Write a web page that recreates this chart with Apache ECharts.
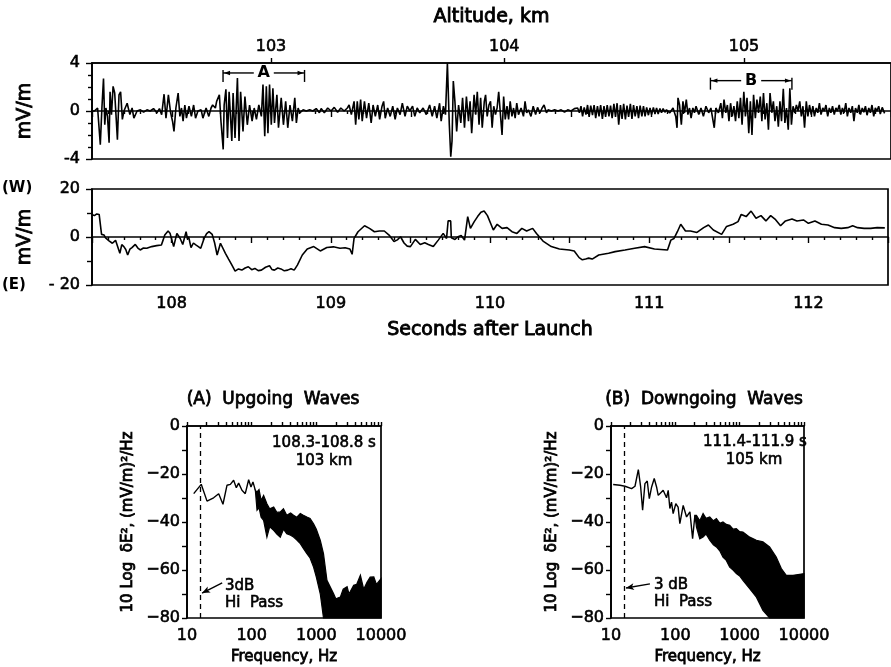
<!DOCTYPE html>
<html>
<head>
<meta charset="utf-8">
<script src="https://cdn.jsdelivr.net/npm/echarts@6/dist/echarts.min.js"></script>
<style>html,body{margin:0;padding:0;background:#fff}#c{width:891px;height:667px}</style>
</head>
<body>
<div id="c"></div>
<script>
// ---------------- DATA ----------------
const timeRange = [107.5, 112.5];
const timeLabels = [108, 109, 110, 111, 112];
const altitudeLabels = ['103', '104', '105'];
const altitudeTimes = [108.62, 110.08, 111.58];

// wave field (mV/m) vs seconds after launch
const waveField = [
[107.500,0.0],[107.515,0.0],[107.535,0.25],[107.552,-2.8],[107.562,0.25],[107.572,2.7],[107.580,-1.15],[107.587,0.25],
[107.597,-0.45],[107.607,-2.65],[107.613,1.6],[107.622,-0.3],[107.632,2.05],[107.642,1.5],[107.650,-0.3],[107.659,-2.4],
[107.669,1.35],[107.679,1.6],[107.690,-0.7],[107.700,0.0],[107.720,0.65],[107.737,-0.3],[107.751,0.25],[107.762,-0.6],
[107.782,0.0],[107.803,0.1],[107.823,-0.1],[107.844,0.1],[107.864,0.0],[107.885,0.2],[107.906,-0.15],[107.922,0.2],
[107.936,-0.3],[107.951,1.4],[107.963,-0.6],[107.978,1.35],[107.992,-0.15],[108.004,-0.85],[108.013,-1.7],[108.025,0.25],
[108.039,1.5],[108.050,-0.45],[108.060,0.25],[108.070,-0.85],[108.081,0.5],[108.091,-0.6],[108.107,0.4],[108.122,-0.45],
[108.136,0.5],[108.148,-0.6],[108.163,0.0],[108.183,0.1],[108.194,-0.6],[108.214,0.25],[108.231,-0.45],[108.245,0.25],
[108.255,0.5],[108.272,0.25],[108.280,0.8],[108.297,1.35],[108.307,-0.85],[108.321,-3.2],[108.327,0.5],[108.338,1.8],
[108.348,-2.25],[108.358,1.6],[108.375,-2.5],[108.383,1.5],[108.395,-2.25],[108.410,2.75],[108.420,-2.5],[108.430,1.6],
[108.445,-1.7],[108.457,1.2],[108.472,-1.15],[108.486,0.5],[108.502,-0.85],[108.515,0.25],[108.529,-0.7],[108.544,0.5],
[108.560,-0.45],[108.570,2.2],[108.581,-2.1],[108.591,2.05],[108.601,-1.85],[108.611,2.2],[108.622,-1.15],[108.632,1.9],
[108.642,-1.0],[108.657,1.35],[108.667,-1.4],[108.684,1.1],[108.698,-1.15],[108.712,0.8],[108.725,-1.4],[108.739,0.5],
[108.754,-0.85],[108.769,1.1],[108.779,-1.0],[108.790,0.25],[108.800,-0.15],[108.821,0.1],[108.841,0.0],[108.862,0.1],
[108.882,0.0],[108.903,0.2],[108.913,0.25],[108.923,-0.15],[108.934,0.2],[108.954,-0.15],[108.975,0.25],[108.996,0.0],
[109.016,0.3],[109.037,-0.1],[109.057,0.25],[109.078,0.0],[109.098,0.25],[109.109,0.5],[109.123,-0.3],[109.140,0.8],
[109.150,-1.15],[109.160,0.8],[109.170,-0.7],[109.181,0.95],[109.191,-0.85],[109.205,0.8],[109.218,-0.6],[109.232,0.65],
[109.247,-1.0],[109.259,0.5],[109.273,-0.45],[109.288,0.5],[109.300,-0.7],[109.315,0.4],[109.325,0.8],[109.335,-0.6],
[109.350,0.25],[109.366,-0.45],[109.382,0.4],[109.397,-0.7],[109.411,0.25],[109.428,-0.3],[109.442,0.65],[109.459,-0.45],
[109.473,0.4],[109.489,0.0],[109.506,0.4],[109.520,-0.45],[109.535,0.25],[109.551,-0.15],[109.572,0.25],[109.592,-0.3],
[109.613,0.5],[109.629,-0.45],[109.644,0.4],[109.658,-0.6],[109.675,0.65],[109.685,-0.85],[109.699,0.4],[109.712,-0.3],
[109.724,4.0],[109.732,4.0],[109.736,-1.15],[109.745,-3.8],[109.753,-2.5],[109.761,2.5],[109.771,0.8],[109.782,-1.7],
[109.794,0.5],[109.808,-1.0],[109.819,1.1],[109.831,-1.4],[109.843,1.2],[109.856,-0.85],[109.866,0.8],[109.876,-1.85],
[109.891,1.35],[109.901,-0.3],[109.911,1.6],[109.922,-1.15],[109.932,1.1],[109.942,-1.4],[109.955,0.8],[109.963,1.35],
[109.973,-0.45],[109.984,0.5],[109.994,0.8],[110.004,-1.4],[110.014,0.4],[110.025,-0.3],[110.035,0.25],[110.045,1.6],
[110.056,-0.3],[110.066,-2.0],[110.076,1.2],[110.086,-0.7],[110.097,0.4],[110.107,-0.7],[110.117,0.8],[110.128,-0.45],
[110.138,0.25],[110.148,-0.6],[110.158,0.65],[110.169,-0.3],[110.185,0.25],[110.200,-0.45],[110.210,0.8],[110.220,-0.15],
[110.231,0.1],[110.247,-0.45],[110.261,0.4],[110.276,-0.3],[110.288,0.3],[110.303,-0.15],[110.317,0.25],[110.329,0.5],
[110.344,-0.15],[110.354,0.1],[110.375,0.0],[110.395,0.1],[110.416,0.0],[110.436,0.1],[110.457,-0.1],[110.477,0.1],
[110.498,0.0],[110.519,0.2],[110.539,0.25],[110.550,-0.15],[110.560,0.4],[110.570,-0.45],[110.580,0.3],[110.591,-0.3],
[110.601,0.5],[110.611,-0.5],[110.621,0.45],[110.632,-0.35],[110.642,0.5],[110.652,-0.6],[110.663,0.4],[110.673,-0.45],
[110.683,0.5],[110.694,-0.65],[110.704,0.4],[110.714,-0.5],[110.724,0.5],[110.735,-0.45],[110.745,0.45],[110.755,-0.6],
[110.766,0.6],[110.776,-0.5],[110.786,0.65],[110.796,-1.15],[110.807,0.5],[110.817,-0.65],[110.827,0.6],[110.838,-0.7],
[110.848,0.45],[110.858,-0.5],[110.869,0.6],[110.879,-0.65],[110.889,0.5],[110.899,-0.45],[110.910,0.4],[110.920,-0.6],
[110.930,0.45],[110.941,-0.45],[110.951,0.4],[110.961,-0.45],[110.971,0.3],[110.982,-0.35],[110.992,0.25],[111.002,-0.3],
[111.013,0.3],[111.023,-0.25],[111.033,0.25],[111.043,-0.25],[111.054,0.2],[111.064,-0.15],[111.074,0.2],[111.085,-0.1],
[111.095,0.1],[111.105,0.0],[111.116,-0.15],[111.136,0.25],[111.153,-0.45],[111.161,-1.4],[111.167,1.1],[111.177,0.5],
[111.188,-1.15],[111.198,0.8],[111.208,-0.15],[111.219,0.95],[111.229,-0.3],[111.239,0.25],[111.249,-0.6],[111.260,0.25],
[111.270,-0.15],[111.280,0.4],[111.297,-0.3],[111.311,0.25],[111.326,-0.45],[111.342,0.4],[111.359,-0.15],[111.373,0.25],
[111.383,0.4],[111.394,-1.4],[111.404,0.25],[111.420,-0.15],[111.435,0.65],[111.445,-0.6],[111.455,0.95],[111.466,-0.15],
[111.476,0.5],[111.486,-0.85],[111.496,0.65],[111.507,-0.45],[111.517,0.4],[111.527,-0.85],[111.538,0.8],[111.548,-0.6],
[111.558,1.1],[111.568,-1.15],[111.579,1.6],[111.589,-0.45],[111.599,1.1],[111.610,-1.85],[111.620,0.8],[111.630,-2.0],
[111.640,1.35],[111.651,-0.6],[111.661,0.95],[111.671,-0.15],[111.682,1.2],[111.692,-0.85],[111.702,1.5],[111.712,-0.7],
[111.723,0.65],[111.733,-1.55],[111.743,1.5],[111.754,-0.15],[111.764,0.8],[111.774,-0.85],[111.785,0.4],[111.795,-1.3],
[111.805,0.8],[111.815,-0.85],[111.826,1.85],[111.836,-1.0],[111.846,0.25],[111.857,-1.55],[111.867,1.9],[111.877,-1.15],
[111.887,0.4],[111.898,-0.15],[111.908,0.5],[111.918,0.0],[111.929,0.8],[111.939,-0.45],[111.949,0.4],[111.959,-1.4],
[111.970,0.8],[111.980,-0.45],[111.990,0.5],[112.001,-0.3],[112.011,0.4],[112.021,-0.45],[112.032,0.25],[112.042,-0.15],
[112.052,0.65],[112.062,-0.3],[112.073,0.25],[112.083,0.0],[112.093,0.5],[112.104,-0.45],[112.114,0.25],[112.124,-0.15],
[112.134,0.4],[112.145,-0.3],[112.155,0.25],[112.165,0.0],[112.176,0.5],[112.186,-0.3],[112.196,0.25],[112.206,-0.15],
[112.217,0.65],[112.227,-0.45],[112.237,0.25],[112.248,-0.15],[112.258,0.4],[112.268,-0.85],[112.278,0.25],[112.289,-0.15],
[112.299,0.5],[112.309,-0.3],[112.320,0.25],[112.330,-0.1],[112.340,0.4],[112.350,-0.35],[112.361,0.25],[112.371,-0.15],
[112.381,0.5],[112.392,-0.45],[112.402,0.25],[112.412,0.0],[112.423,0.4],[112.433,-0.25],[112.445,0.3],[112.460,-0.2]
];

// east-west DC field (mV/m)
const dcField = [
[107.50,9.4],[107.515,8.9],[107.530,9.6],[107.545,9.4],[107.56,1.1],[107.576,0.8],[107.585,-0.4],[107.597,-0.3],[107.607,-1.6],[107.617,-1.3],[107.628,-2.6],[107.638,-3.3],
[107.648,-1.4],[107.659,-1.9],[107.675,-6.8],[107.687,-3.2],[107.70,-4.0],[107.712,-5.2],[107.724,-7.5],[107.738,-5.1],[107.751,-4.4],[107.772,-3.1],[107.788,-4.6],[107.803,-5.4],[107.823,-4.6],[107.844,-4.7],
[107.875,-4.0],[107.906,-3.6],[107.936,-3.3],[107.947,-1.2],[107.957,0.8],[107.978,2.5],[107.990,1.6],[107.998,0.8],[108.013,-4.0],[108.033,1.5],[108.045,0.3],[108.054,-0.6],
[108.070,-3.1],[108.091,2.2],[108.100,-0.8],[108.107,0.1],[108.122,-4.4],[108.137,-2.5],[108.152,-3.3],[108.168,-4.0],[108.183,-4.7],[108.204,-0.6],[108.220,1.4],[108.235,2.2],
[108.255,1.1],[108.270,-2.4],[108.286,-7.5],[108.307,-2.6],[108.317,-2.2],[108.338,-6.8],[108.358,-9.2],[108.379,-11.7],[108.399,-14.2],
[108.420,-13.3],[108.441,-13.8],[108.462,-12.9],[108.482,-12.4],[108.503,-13.6],[108.523,-13.1],[108.544,-14.0],[108.564,-13.8],
[108.590,-12.6],[108.615,-12.0],[108.630,-13.5],[108.646,-13.8],[108.667,-12.9],[108.687,-13.3],[108.708,-14.1],[108.729,-13.8],
[108.750,-13.2],[108.770,-13.8],[108.790,-11.7],[108.821,-7.5],[108.852,-5.0],[108.893,-4.0],[108.934,-5.8],[108.975,-4.4],
[109.016,-4.1],[109.058,-4.7],[109.090,-4.5],[109.120,-5.0],[109.134,-7.2],[109.146,-0.6],[109.171,2.2],[109.212,4.7],
[109.243,3.6],[109.274,2.2],[109.305,2.5],[109.336,2.5],[109.366,0.8],[109.397,-1.9],[109.418,-1.2],[109.438,0.1],[109.460,-2.5],[109.480,-3.8],
[109.500,-4.0],[109.531,-1.0],[109.562,-3.1],[109.590,-2.4],[109.613,-3.1],[109.644,-4.0],[109.675,-1.3],[109.706,1.5],[109.727,-0.6],
[109.737,6.7],[109.753,6.7],[109.757,-0.3],[109.780,-1.0],[109.799,0.1],[109.819,0.6],[109.840,-1.3],[109.860,8.5],[109.877,3.6],
[109.901,6.4],[109.922,8.5],[109.943,10.3],[109.963,10.8],[109.984,8.9],[110.021,2.9],[110.045,5.3],[110.076,3.6],
[110.107,3.9],[110.138,2.2],[110.169,1.5],[110.200,3.6],[110.230,2.5],[110.268,3.6],[110.292,1.5],[110.333,-1.7],
[110.385,-4.0],[110.436,-5.0],[110.498,-5.4],[110.529,-5.8],[110.560,-8.6],[110.580,-9.5],[110.601,-9.2],[110.620,-8.8],
[110.642,-9.2],[110.683,-7.5],[110.745,-6.8],[110.786,-6.1],[110.848,-5.4],[110.909,-4.7],[110.971,-4.0],[111.033,-5.0],
[111.115,-5.4],[111.136,-1.3],[111.156,-0.6],[111.177,2.2],[111.198,5.3],[111.228,2.5],[111.259,2.5],[111.300,1.9],
[111.342,3.9],[111.372,5.0],[111.403,2.9],[111.455,1.1],[111.486,4.4],[111.527,5.3],[111.558,6.4],[111.578,9.4],
[111.609,8.5],[111.640,10.8],[111.671,7.8],[111.702,8.9],[111.733,6.7],[111.763,8.9],[111.794,7.2],[111.825,4.7],
[111.856,6.7],[111.897,7.5],[111.928,6.7],[111.969,7.1],[112.000,5.7],[112.041,6.7],[112.082,5.3],[112.123,5.0],
[112.165,3.9],[112.206,3.6],[112.247,3.9],[112.278,4.7],[112.309,3.9],[112.350,3.6],[112.391,3.6],[112.432,3.9],[112.48,3.8]
];

// analysis intervals marked on the wave-field trace
const bracketLabels = ['A', 'B'];
const bracketStart = [108.32, 111.37];
const bracketEnd = [108.83, 111.88];
const bracketLevel = [3.17, 2.53];

// spectra (dB vs Hz)
const freqLabels = [10, 100, 1000, 10000];
const hiPassFreq = 16;
const specAFreq = [12.7,16.6,20.4,25.8,30.9,36,41.5,46.8,52.6,57.9,62.9,70.8,79.6,89.8,97.6,104.7,114];
const specADb   = [-28.2,-24.3,-31.3,-29.9,-28.2,-32.6,-24.7,-24.3,-22.6,-25.7,-23.8,-26.8,-28.2,-22.4,-25.4,-23.3,-26.8];
const specABandFreq  = [114,121,130,140,153,172,190,219,245,277,310,349,400,444,500,565,630,714,800,906,1000,1150,1290,1460,1850,2000,2350,2600,2990,3200,3780,4200,4800,5400,6100,6800,7740,8500,10000];
const specABandUpper = [-26.8,-27.5,-26.5,-31,-28.9,-32.4,-34.5,-33.8,-36,-35.8,-34.5,-37.2,-36.2,-37.2,-38,-36.5,-37.2,-37.9,-38.5,-40.7,-43,-47.6,-53.2,-64.3,-69.9,-72,-71.3,-68,-67,-70,-66.4,-66,-62.2,-68,-65,-63,-62.9,-66,-63.6];
const specABandLower = [-26.8,-35.1,-34,-38,-39.3,-46.3,-42,-43.5,-45,-46.3,-43,-44.9,-45.5,-46.3,-47.5,-49,-51,-53.2,-55,-58.8,-63,-69.9,-80,-80,-80,-80,-80,-80,-80,-80,-80,-80,-80,-80,-80,-80,-80,-80,-80];
const specBFreq = [10.8,13.8,16.5,20.9,23.6,26.6,28.9,31,33.7,36.6,39.4,42.8,47,51.1,54.2,58.9,64.7,73,77.5,82.2,87.2,92.5,101.7,110.5,117.5,132.5,149.5,168.5,185.5,201.5];
const specBDb   = [-24.4,-24.7,-25.1,-26.1,-25.1,-18.2,-25.4,-35.1,-24,-22.9,-30.3,-25.4,-21.9,-25.4,-28.9,-27.9,-26.8,-29.9,-26.8,-34.4,-31.7,-36.5,-32.4,-33.8,-40.7,-33.1,-37.9,-35.8,-46.9,-37.2];
const specBBandFreq  = [201.5,213,240,270,300,343,390,435,490,550,620,700,790,888,1000,1125,1430,1820,2300,2920,3700,4440,5300,6750,10000];
const specBBandUpper = [-37.2,-37.2,-39.5,-36.5,-38.5,-37.9,-39.5,-38.6,-40.5,-40,-41,-41.4,-43,-42.8,-44,-44.2,-46.3,-47.6,-48.3,-50.4,-54.6,-59.4,-62.2,-62.2,-61.5];
const specBBandLower = [-37.2,-42.1,-47,-46.3,-45,-47.6,-49.5,-50.4,-52,-54.6,-56,-58.8,-60,-61.5,-62.5,-64.3,-67.8,-71.3,-76.8,-80,-80,-80,-80,-80,-80];
const hiPassArrowA = [[35, -65.4], [17.1, -69.6]];
const hiPassArrowB = [[40.3, -65.8], [17.1, -67.5]];

// ---------------- CHART ----------------
const FONT = 'DejaVu Sans';
const BLACK = '#000';
const AX = { color: BLACK, width: 1.7 };
const TICK = { color: BLACK, width: 1.4 };
const chart = echarts.init(document.getElementById('c'), null, { renderer: 'canvas' });

const logTicks = [];
[10, 100, 1000].forEach(d => { for (let k = 1; k < 10; k++) logTicks.push(d * k); });
logTicks.push(10000);

function minusFmt(v) { return v < 0 ? '\u2212' + (-v) : String(v); }
function lbl(extra, bw) {
  return Object.assign({ color: BLACK, fontFamily: FONT, fontSize: 15, textBorderColor: BLACK, textBorderWidth: bw || 0.6 }, extra || {});
}

function timeAxis(gridIndex, showLabels) {
  return {
    gridIndex, type: 'value', min: timeRange[0], max: timeRange[1], interval: 0.5,
    axisLine: { lineStyle: AX }, splitLine: { show: false },
    axisTick: { length: 6, lineStyle: TICK },
    minorTick: { show: true, splitNumber: 5, length: 3, lineStyle: TICK },
    axisLabel: showLabels ? lbl({ fontSize: 16, margin: 11,
      formatter: v => (timeLabels.indexOf(Math.round(v * 10) / 10) >= 0 ? String(Math.round(v)) : '') }) : { show: false }
  };
}

function freqAxis(gridIndex) {
  return {
    gridIndex, type: 'log', logBase: 10, min: 10, max: 10000,
    axisLine: { lineStyle: AX }, splitLine: { show: false },
    axisTick: { inside: true, length: 4, lineStyle: TICK, customValues: logTicks },
    axisLabel: lbl({ fontSize: 16, margin: 10, customValues: freqLabels, formatter: v => String(Math.round(v)) }),
    name: 'Frequency, Hz', nameLocation: 'middle', nameGap: 32,
    nameTextStyle: lbl({ fontSize: 15 }, 0.8)
  };
}

function dbAxis(gridIndex, gap) {
  return {
    gridIndex, type: 'value', min: -80, max: 0, interval: 20,
    axisLine: { lineStyle: AX }, splitLine: { show: false },
    axisTick: { length: 5, lineStyle: TICK },
    minorTick: { show: true, splitNumber: 2, length: 5, lineStyle: TICK },
    axisLabel: lbl({ fontSize: 16, margin: 7, formatter: minusFmt }),
    name: '10 Log  \u03b4E\u00b2, (mV/m)\u00b2/Hz', nameLocation: 'middle', nameRotate: 90, nameGap: gap,
    nameTextStyle: lbl({ fontSize: 15 }, 0.8)
  };
}

function bandRenderer(freq, upper, lower) {
  return function (params, api) {
    if (params.dataIndex !== 0) return null;
    const pts = [];
    for (let i = 0; i < freq.length; i++) pts.push(api.coord([freq[i], upper[i]]));
    for (let i = freq.length - 1; i >= 0; i--) pts.push(api.coord([freq[i], lower[i]]));
    return { type: 'polygon', shape: { points: pts }, style: { fill: BLACK, stroke: BLACK, lineWidth: 1.2 } };
  };
}

function renderBracket(params, api) {
  const i = params.dataIndex;
  const y = bracketLevel[i];
  const pL = api.coord([bracketStart[i], y]);
  const pR = api.coord([bracketEnd[i], y]);
  const yy = pL[1];
  const mid = (pL[0] + pR[0]) / 2;
  const gap = 10;
  const st = { stroke: BLACK, lineWidth: 1.4 };
  return {
    type: 'group', children: [
      { type: 'line', shape: { x1: pL[0], y1: yy, x2: mid - gap, y2: yy }, style: st },
      { type: 'line', shape: { x1: mid + gap, y1: yy, x2: pR[0], y2: yy }, style: st },
      { type: 'line', shape: { x1: pL[0], y1: yy - 3, x2: pL[0], y2: yy + 9 }, style: st },
      { type: 'line', shape: { x1: pR[0], y1: yy - 3, x2: pR[0], y2: yy + 9 }, style: st },
      { type: 'polygon', shape: { points: [[pL[0] + 1, yy], [pL[0] + 7, yy - 2.2], [pL[0] + 7, yy + 2.2]] }, style: { fill: BLACK } },
      { type: 'polygon', shape: { points: [[pR[0] - 1, yy], [pR[0] - 7, yy - 2.2], [pR[0] - 7, yy + 2.2]] }, style: { fill: BLACK } },
      { type: 'text', style: { text: bracketLabels[i], x: mid, y: yy, align: 'center', verticalAlign: 'middle',
          textAlign: 'center', textVerticalAlign: 'middle', font: 'bold 16px "DejaVu Sans"', fill: BLACK } }
    ]
  };
}

function arrowLine(pair) {
  return [
    { coord: pair[0], symbol: 'none', lineStyle: { type: 'solid', width: 1.4, color: BLACK } },
    { coord: pair[1], symbol: 'arrow', symbolSize: [5, 8] }
  ];
}

function txt(text, x, y, size, align, weight, sw) {
  return { type: 'text', x, y, silent: true, style: { text, fill: BLACK, font: (weight || 'normal') + ' ' + size + 'px "DejaVu Sans"',
    stroke: BLACK, lineWidth: weight === 'bold' ? 0 : (sw || 0.6),
    align: align || 'center', verticalAlign: 'middle', textAlign: align || 'center', textVerticalAlign: 'middle' } };
}

const option = {
  animation: false,
  backgroundColor: '#fff',
  textStyle: { fontFamily: FONT, color: BLACK },
  grid: [
    { left: 92, top: 63, width: 810, height: 96, show: true, borderColor: BLACK, borderWidth: 1.7, backgroundColor: 'transparent' },
    { left: 92, top: 189, width: 810, height: 96, show: true, borderColor: BLACK, borderWidth: 1.7, backgroundColor: 'transparent' },
    { left: 187, top: 426, width: 194, height: 192, show: true, borderColor: BLACK, borderWidth: 1.7, backgroundColor: 'transparent' },
    { left: 611, top: 426, width: 193, height: 192, show: true, borderColor: BLACK, borderWidth: 1.7, backgroundColor: 'transparent' }
  ],
  xAxis: [
    timeAxis(0, false),
    {
      gridIndex: 0, type: 'value', position: 'top', min: timeRange[0], max: timeRange[1],
      axisLine: { lineStyle: AX }, splitLine: { show: false },
      axisTick: { length: 5, lineStyle: TICK, customValues: altitudeTimes },
      axisLabel: lbl({ fontSize: 16, margin: 8, customValues: altitudeTimes,
        formatter: v => { let best = 0; altitudeTimes.forEach((t, i) => { if (Math.abs(t - v) < Math.abs(altitudeTimes[best] - v)) best = i; }); return altitudeLabels[best]; } }),
      name: 'Altitude, km', nameLocation: 'middle', nameGap: 36,
      nameTextStyle: lbl({ fontSize: 19 }, 0.9)
    },
    Object.assign(timeAxis(1, true), { name: 'Seconds after Launch', nameLocation: 'middle', nameGap: 36,
      nameTextStyle: lbl({ fontSize: 19 }, 0.9) }),
    freqAxis(2),
    freqAxis(3)
  ],
  yAxis: [
    {
      gridIndex: 0, type: 'value', min: -4, max: 4, interval: 4,
      axisLine: { lineStyle: AX }, splitLine: { show: false },
      axisTick: { length: 6, lineStyle: TICK },
      minorTick: { show: true, splitNumber: 4, length: 4, lineStyle: TICK },
      axisLabel: lbl({ fontSize: 16, margin: 12 }),
      name: 'mV/m', nameLocation: 'middle', nameRotate: 90, nameGap: 57,
      nameTextStyle: lbl({ fontSize: 19 }, 0.9)
    },
    {
      gridIndex: 1, type: 'value', min: -20, max: 20, interval: 20,
      axisLine: { lineStyle: AX }, splitLine: { show: false },
      axisTick: { length: 6, lineStyle: TICK },
      minorTick: { show: true, splitNumber: 2, length: 5, lineStyle: TICK },
      axisLabel: lbl({ fontSize: 16, margin: 12, formatter: v => (v < 0 ? '- ' + (-v) : String(v)) }),
      name: 'mV/m', nameLocation: 'middle', nameRotate: 90, nameGap: 57,
      nameTextStyle: lbl({ fontSize: 19 }, 0.9)
    },
    dbAxis(2, 51),
    dbAxis(3, 51)
  ],
  series: [
    { type: 'line', xAxisIndex: 0, yAxisIndex: 0, data: waveField, showSymbol: false, symbol: 'none',
      lineStyle: { color: BLACK, width: 1.6 }, z: 3 },
    { type: 'custom', xAxisIndex: 0, yAxisIndex: 0, renderItem: renderBracket,
      data: bracketLabels.map((l, i) => [bracketStart[i], bracketEnd[i], bracketLevel[i]]),
      encode: { x: [0, 1], y: 2 }, z: 5, silent: true },
    { type: 'line', xAxisIndex: 2, yAxisIndex: 1, data: dcField, showSymbol: false, symbol: 'none',
      lineStyle: { color: BLACK, width: 1.6 } },
    { type: 'line', xAxisIndex: 3, yAxisIndex: 2, data: specAFreq.map((f, i) => [f, specADb[i]]), showSymbol: false, symbol: 'none',
      lineStyle: { color: BLACK, width: 1.4 },
      markLine: { silent: true, symbol: 'none', animation: false, label: { show: false },
        lineStyle: { color: BLACK, width: 1.3, type: [5, 4] },
        data: [{ xAxis: hiPassFreq }, arrowLine(hiPassArrowA)] } },
    { type: 'custom', xAxisIndex: 3, yAxisIndex: 2, renderItem: bandRenderer(specABandFreq, specABandUpper, specABandLower),
      data: specABandFreq.map((f, i) => [f, specABandUpper[i], specABandLower[i]]), encode: { x: 0, y: [1, 2] }, silent: true },
    { type: 'line', xAxisIndex: 4, yAxisIndex: 3, data: specBFreq.map((f, i) => [f, specBDb[i]]), showSymbol: false, symbol: 'none',
      lineStyle: { color: BLACK, width: 1.4 },
      markLine: { silent: true, symbol: 'none', animation: false, label: { show: false },
        lineStyle: { color: BLACK, width: 1.3, type: [5, 4] },
        data: [{ xAxis: hiPassFreq }, arrowLine(hiPassArrowB)] } },
    { type: 'custom', xAxisIndex: 4, yAxisIndex: 3, renderItem: bandRenderer(specBBandFreq, specBBandUpper, specBBandLower),
      data: specBBandFreq.map((f, i) => [f, specBBandUpper[i], specBBandLower[i]]), encode: { x: 0, y: [1, 2] }, silent: true }
  ],
  graphic: [
    txt('(W)', 2, 188, 15, 'left', 'bold'),
    txt('(E)', 2, 285, 15, 'left', 'bold'),
    txt('(A)  Upgoing  Waves', 273, 400, 17, 'center', 'normal', 0.8),
    txt('(B)  Downgoing  Waves', 704, 400, 17, 'center', 'normal', 0.8),
    txt('108.3-108.8 s', 324, 443, 15),
    txt('103 km', 324, 461, 15),
    txt('111.4-111.9 s', 755, 442, 15),
    txt('105 km', 754, 460, 15),
    txt('3dB', 225, 586, 15, 'left'),
    txt('Hi  Pass', 225, 603, 15, 'left'),
    txt('3 dB', 654, 585, 15, 'left'),
    txt('Hi  Pass', 654, 602, 15, 'left')
  ]
};
chart.setOption(option);
</script>
</body>
</html>
